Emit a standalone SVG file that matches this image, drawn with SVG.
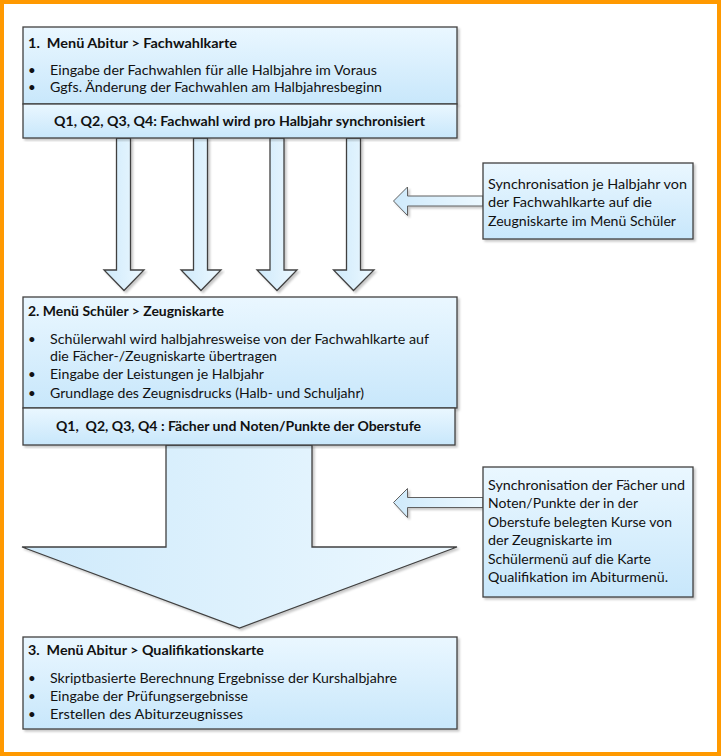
<svg xmlns="http://www.w3.org/2000/svg" width="721" height="756" viewBox="0 0 721 756">
<defs>
<linearGradient id="gv" x1="0" y1="0" x2="0" y2="1">
<stop offset="0" stop-color="#eaf7ff"/>
<stop offset="1" stop-color="#c8e7fb"/>
</linearGradient>
<linearGradient id="gh" x1="0" y1="0" x2="1" y2="0">
<stop offset="0" stop-color="#cfeafb"/>
<stop offset="1" stop-color="#ecf8ff"/>
</linearGradient>
<filter id="sh" x="-5%" y="-5%" width="115%" height="115%">
<feDropShadow dx="2" dy="2" stdDeviation="1" flood-color="#000" flood-opacity="0.22"/>
</filter>
</defs>
<style>
.box{fill:url(#gv);stroke:#404040;stroke-width:1.3}
.arr{fill:url(#gh);stroke:#404040;stroke-width:1.3;stroke-linejoin:miter}
.sarr{fill:url(#gh);stroke:#606060;stroke-width:1}
text{font-family:Lato,"Open Sans","Liberation Sans",sans-serif;font-size:13.3px;fill:#111}
.b{font-weight:bold}
</style>
<rect x="2" y="2" width="717" height="752" fill="#ffffff" stroke="#ff9900" stroke-width="4"/>

<g id="connectors">
<polygon class="arr" filter="url(#sh)" points="116.5,138 130.5,138 130.5,270 144,270 124,290.5 104,270 116.5,270"/>
<polygon class="arr" filter="url(#sh)" points="193.5,138 207.5,138 207.5,270 221,270 201,290.5 181,270 193.5,270"/>
<polygon class="arr" filter="url(#sh)" points="270,138 284,138 284,270 297,270 277,290.5 257,270 270,270"/>
<polygon class="arr" filter="url(#sh)" points="346.5,138 360.5,138 360.5,270 374,270 353.5,290.5 333.5,270 346.5,270"/>
<polygon class="arr" filter="url(#sh)" points="166,445 312,445 312,547 457,547 239.5,628 22,547 166,547"/>
<polygon class="sarr" filter="url(#sh)" points="483,196 407.5,196 407.5,187 393.5,201 407.5,215.5 407.5,206 483,206"/>
<polygon class="sarr" filter="url(#sh)" points="483,497.5 407.5,497.5 407.5,488.5 393.5,502.5 407.5,517.5 407.5,507.5 483,507.5"/>
</g>

<g id="node1">
<rect class="box" filter="url(#sh)" x="23" y="27" width="434" height="77"/>
<rect class="box" filter="url(#sh)" x="23" y="104" width="434" height="34"/>
<text class="b" x="28" y="47.5" textLength="209" lengthAdjust="spacingAndGlyphs">1.&#160; Menü Abitur &gt; Fachwahlkarte</text>
<text x="28" y="74.5">•</text>
<text x="50" y="74.5" textLength="327" lengthAdjust="spacingAndGlyphs">Eingabe der Fachwahlen für alle Halbjahre im Voraus</text>
<text x="28" y="91.5">•</text>
<text x="50" y="91.5" textLength="332" lengthAdjust="spacingAndGlyphs">Ggfs. Änderung der Fachwahlen am Halbjahresbeginn</text>
<text class="b" x="54" y="125.5" textLength="371" lengthAdjust="spacingAndGlyphs">Q1, Q2, Q3, Q4: Fachwahl wird pro Halbjahr synchronisiert</text>
</g>

<g id="note1">
<rect class="box" filter="url(#sh)" x="483" y="163" width="210" height="76"/>
<text x="488" y="188.5" textLength="199" lengthAdjust="spacingAndGlyphs">Synchronisation je Halbjahr von</text>
<text x="488" y="207" textLength="164" lengthAdjust="spacingAndGlyphs">der Fachwahlkarte auf die</text>
<text x="488" y="225.5" textLength="188" lengthAdjust="spacingAndGlyphs">Zeugniskarte im Menü Schüler</text>
</g>

<g id="node2">
<rect class="box" filter="url(#sh)" x="23" y="297" width="434" height="111"/>
<rect class="box" filter="url(#sh)" x="23" y="408" width="432" height="37"/>
<text class="b" x="28" y="315.5" textLength="196" lengthAdjust="spacingAndGlyphs">2. Menü Schüler &gt; Zeugniskarte</text>
<text x="28" y="343.5">•</text>
<text x="50" y="343.5" textLength="379" lengthAdjust="spacingAndGlyphs">Schülerwahl wird halbjahresweise von der Fachwahlkarte auf</text>
<text x="50" y="360.5" textLength="227" lengthAdjust="spacingAndGlyphs">die Fächer-/Zeugniskarte übertragen</text>
<text x="28" y="379">•</text>
<text x="50" y="379" textLength="214" lengthAdjust="spacingAndGlyphs">Eingabe der Leistungen je Halbjahr</text>
<text x="28" y="397.5">•</text>
<text x="50" y="397.5" textLength="314" lengthAdjust="spacingAndGlyphs">Grundlage des Zeugnisdrucks (Halb- und Schuljahr)</text>
<text class="b" x="56" y="430.5" textLength="365" lengthAdjust="spacingAndGlyphs">Q1,&#160; Q2, Q3, Q4 : Fächer und Noten/Punkte der Oberstufe</text>
</g>

<g id="note2">
<rect class="box" filter="url(#sh)" x="483" y="467" width="210" height="130"/>
<text x="488" y="489.5" textLength="197" lengthAdjust="spacingAndGlyphs">Synchronisation der Fächer und</text>
<text x="488" y="508" textLength="150" lengthAdjust="spacingAndGlyphs">Noten/Punkte der in der</text>
<text x="488" y="526.5" textLength="184" lengthAdjust="spacingAndGlyphs">Oberstufe belegten Kurse von</text>
<text x="488" y="545" textLength="124" lengthAdjust="spacingAndGlyphs">der Zeugniskarte im</text>
<text x="488" y="563.5" textLength="163" lengthAdjust="spacingAndGlyphs">Schülermenü auf die Karte</text>
<text x="488" y="582" textLength="180" lengthAdjust="spacingAndGlyphs">Qualifikation im Abiturmenü.</text>
</g>

<g id="node3">
<rect class="box" filter="url(#sh)" x="23" y="637" width="434" height="92"/>
<text class="b" x="28" y="654.5" textLength="236" lengthAdjust="spacingAndGlyphs">3.&#160; Menü Abitur &gt; Qualifikationskarte</text>
<text x="28" y="682.5">•</text>
<text x="50" y="682.5" textLength="347" lengthAdjust="spacingAndGlyphs">Skriptbasierte Berechnung Ergebnisse der Kurshalbjahre</text>
<text x="28" y="700.5">•</text>
<text x="50" y="700.5" textLength="198" lengthAdjust="spacingAndGlyphs">Eingabe der Prüfungsergebnisse</text>
<text x="28" y="719">•</text>
<text x="50" y="719" textLength="193" lengthAdjust="spacingAndGlyphs">Erstellen des Abiturzeugnisses</text>
</g>
</svg>
